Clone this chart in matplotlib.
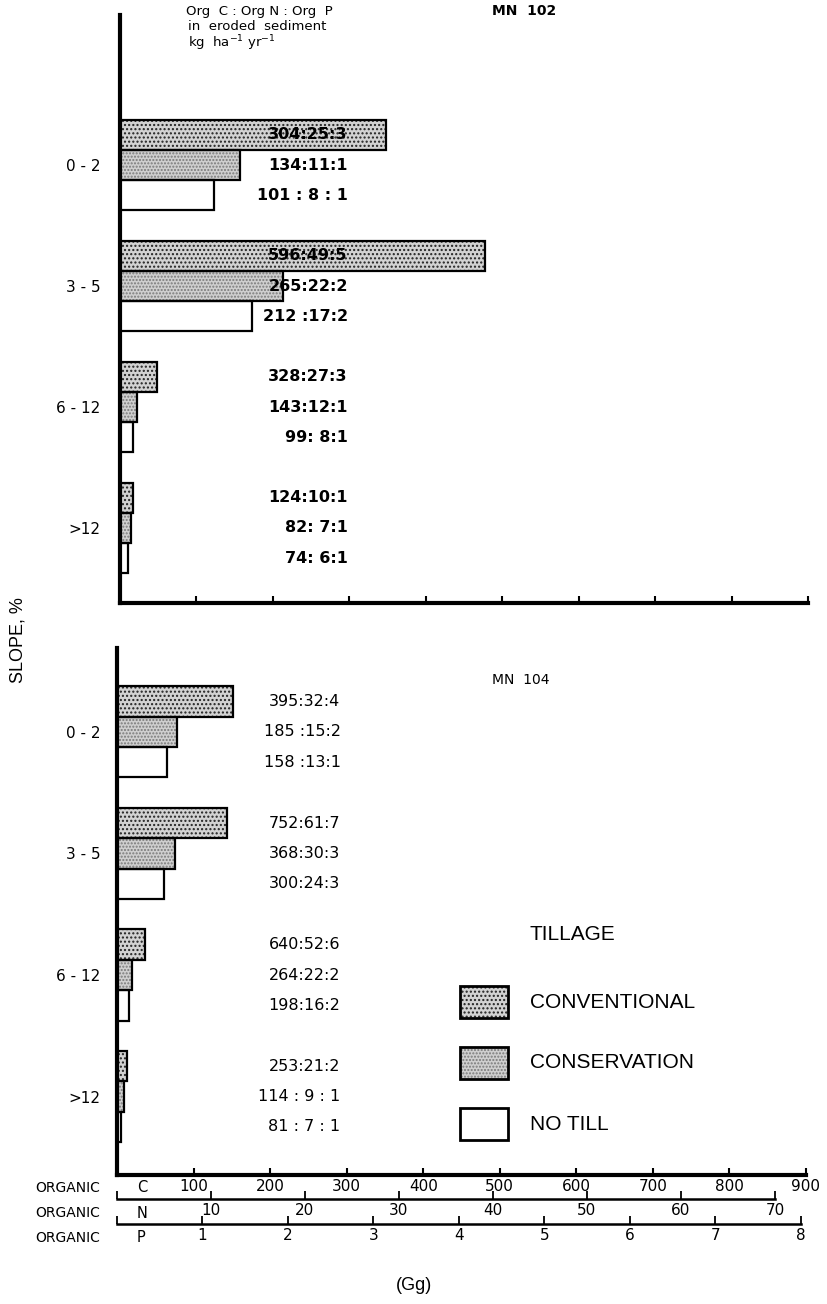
import numpy as np
import matplotlib
matplotlib.use("Agg")
import matplotlib.pyplot as plt
from matplotlib.patches import Rectangle

W, H = 828, 1304

# ─── DATA (organic C, Gg) ──────────────────────────────────
slopes = ["0 - 2", "3 - 5", "6 - 12", ">12"]

mn102_conv = [348, 478, 49, 17]
mn102_cons = [157, 213, 22, 14]
mn102_notill = [123, 173, 17, 10]
mn102_ratio = [["304:25:3", "134:11:1", "101 : 8 : 1"],
               ["596:49:5", "265:22:2", "212 :17:2"],
               ["328:27:3", "143:12:1", "99: 8:1"],
               ["124:10:1", "82: 7:1", "74: 6:1"]]

mn104_conv = [151, 144, 37, 13]
mn104_cons = [78, 76, 20, 9]
mn104_notill = [65, 61, 16, 5]
mn104_ratio = [["395:32:4", "185 :15:2", "158 :13:1"],
               ["752:61:7", "368:30:3", "300:24:3"],
               ["640:52:6", "264:22:2", "198:16:2"],
               ["253:21:2", "114 : 9 : 1", "81 : 7 : 1"]]

c_ticks = [100, 200, 300, 400, 500, 600, 700, 800, 900]
n_ticks = [10, 20, 30, 40, 50, 60, 70]
p_ticks = [1, 2, 3, 4, 5, 6, 7, 8]
c_max, n_max, p_max = 900, 73.3, 8.06

# ─── STYLE ─────────────────────────────────────────────────
plt.rcParams["font.family"] = ["DejaVu Sans"]
HELV = "Liberation Sans"
styles = {
    "conv": dict(face="#d2d2d2", hatch="....", hcol="#222222"),
    "cons": dict(face="#cfcfcf", hatch=".....", hcol="#7a7a7a"),
    "notill": dict(face="white", hatch=None, hcol="black"),
}


def px(x, y):
    return x / W, 1 - y / H


fig = plt.figure(figsize=(W / 100, H / 100), dpi=100)


def draw_bars(ax, y, vals, kind, h):
    st = styles[kind]
    ax.barh(y, vals, height=h, color=st["face"], hatch=st["hatch"],
            edgecolor=st["hcol"], linewidth=0, zorder=2)
    ax.barh(y, vals, height=h, fill=False, edgecolor="black",
            linewidth=1.6, zorder=3)


def panel(rect, ylim, conv, cons, notill, ratios, lab_x, bold, pad):
    ax = fig.add_axes(rect)
    h = 0.25
    y = np.arange(len(slopes))
    draw_bars(ax, y - h, conv, "conv", h)
    draw_bars(ax, y, cons, "cons", h)
    draw_bars(ax, y + h, notill, "notill", h)
    for i in range(len(slopes)):
        for j, off in enumerate([-h, 0, h]):
            ax.text(lab_x, y[i] + off, ratios[i][j], ha="right", va="center",
                    fontsize=11.5, fontweight="bold" if bold else "normal",
                    zorder=5)
    ax.set_xlim(0, c_max)
    ax.set_ylim(*ylim)
    ax.set_yticks(y)
    ax.set_yticklabels(slopes, fontsize=11)
    ax.tick_params(axis="y", length=0, pad=pad)
    ax.set_xticks([0] + c_ticks)
    ax.tick_params(axis="x", direction="in", length=5, width=1.5)
    ax.spines[["top", "right"]].set_visible(False)
    ax.spines["left"].set_linewidth(3)
    ax.spines["bottom"].set_linewidth(3)
    ax.patch.set_alpha(0)
    return ax


x0, y0 = px(120, 603)
x1, y1 = px(808, 15)
ax1 = panel([x0, y0, x1 - x0, y1 - y0], (3.62, -1.24),
            mn102_conv, mn102_cons, mn102_notill, mn102_ratio, 298, True, 14)
ax1.set_xticklabels([])

x0, y0 = px(117, 1175)
x1, y1 = px(806, 648)
ax2 = panel([x0, y0, x1 - x0, y1 - y0], (3.645, -0.69),
            mn104_conv, mn104_cons, mn104_notill, mn104_ratio, 292, False, 12)
ax2.set_xticklabels([""] + [str(t) for t in c_ticks], fontsize=11)
ax2.tick_params(axis="x", pad=3)


# secondary scales for N and P
def scale_axis(ypix, xmax, ticks, top):
    a0, b0 = px(117, ypix)
    a1, _ = px(806, ypix)
    a = fig.add_axes([a0, b0, a1 - a0, 0.0001])
    a.set_xlim(0, xmax)
    a.set_yticks([])
    for s in ["top", "left", "right"]:
        a.spines[s].set_visible(False)
    a.spines["bottom"].set_linewidth(1.8)
    a.spines["bottom"].set_bounds(0, top)
    a.set_xticks([0] + ticks)
    a.set_xticklabels([""] + [str(t) for t in ticks], fontsize=11)
    a.tick_params(axis="x", direction="in", length=6, width=1.3, pad=3)
    a.patch.set_alpha(0)
    return a


scale_axis(1199, n_max, n_ticks, 70)
scale_axis(1224, p_max, p_ticks, 8)

for yy, letter in [(1188, "C"), (1213, "N"), (1238, "P")]:
    fig.text(*px(35, yy), "ORGANIC", fontsize=10, va="center")
    fig.text(*px(137, yy), letter, fontsize=10.5, va="center")
fig.text(*px(414, 1286), "(Gg)", fontsize=13, ha="center", va="center",
         family=HELV)
fig.text(*px(18, 640), "SLOPE, %", fontsize=13, rotation=90, ha="center",
         va="center", family=HELV)

# header texts
fig.text(*px(186, 11), "Org  C : Org N : Org  P", fontsize=9.5, va="center")
fig.text(*px(188, 26), "in  eroded  sediment", fontsize=9.5, va="center")
fig.text(*px(188, 43), "kg  ha$^{-1}$ yr$^{-1}$", fontsize=9.5, va="center")
fig.text(*px(492, 11), "MN  102", fontsize=10, va="center", fontweight="bold")
fig.text(*px(492, 680), "MN  104", fontsize=10, va="center")

# legend
fig.text(*px(530, 935), "TILLAGE", fontsize=15, va="center", family=HELV)
leg = [("conv", "CONVENTIONAL", 1002), ("cons", "CONSERVATION", 1063),
       ("notill", "NO TILL", 1124)]
for kind, name, yc in leg:
    st = styles[kind]
    bx, by = px(460, yc + 16)
    bw = 48 / W
    bh = 32 / H
    fig.patches.append(Rectangle((bx, by), bw, bh, transform=fig.transFigure,
                                 facecolor=st["face"], hatch=st["hatch"],
                                 edgecolor=st["hcol"], linewidth=0))
    fig.patches.append(Rectangle((bx, by), bw, bh, transform=fig.transFigure,
                                 fill=False, edgecolor="black", linewidth=2))
    fig.text(*px(530, yc), name, fontsize=15, va="center", family=HELV)

fig.savefig("out.png", dpi=100)
